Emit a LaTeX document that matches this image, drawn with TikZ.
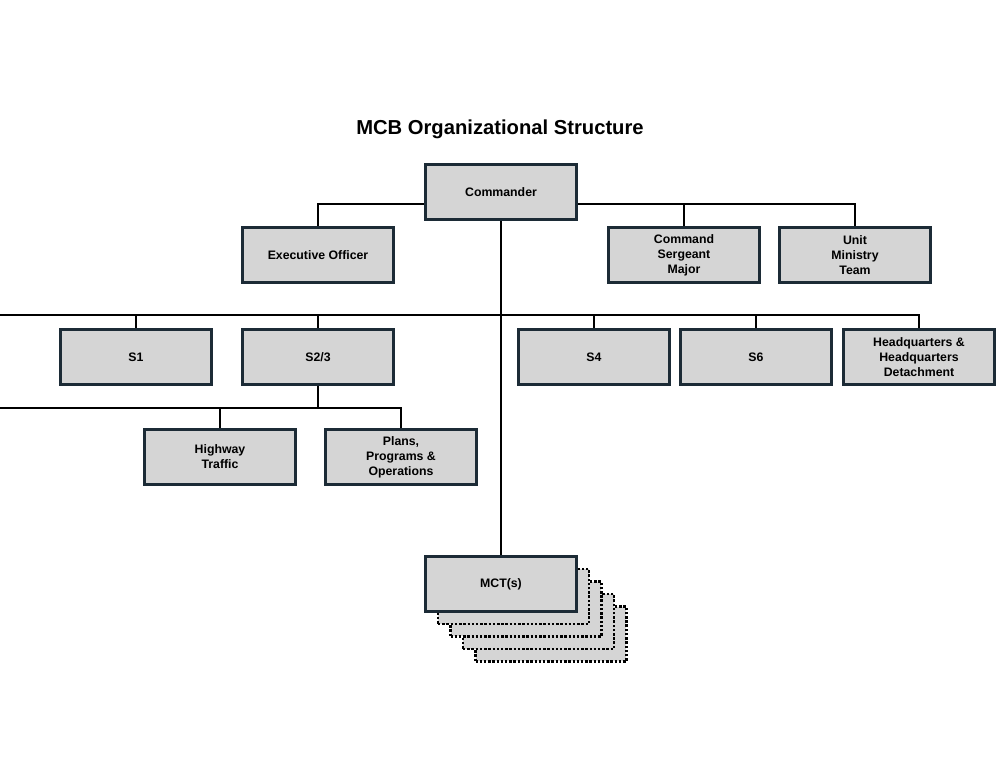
\documentclass[tikz,border=0pt]{standalone}
\usepackage{fontspec}
\setmainfont{Liberation Sans}
\begin{document}
\begin{tikzpicture}[x=0.02cm,y=-0.02cm,
  box/.style={draw=boxline,line width=1.6pt,fill=boxfill,minimum width=154\pgflinewidth*0+3.02cm,minimum height=1.1cm,align=center,font=\fontsize{7}{8.5}\selectfont\bfseries,inner sep=1pt},
  ghost/.style={draw=black,densely dotted,line width=1.4pt,fill=boxfill,minimum width=3.02cm,minimum height=1.1cm},
  conn/.style={draw=black,line width=1.1pt}]
\definecolor{boxline}{HTML}{1C2B36}
\definecolor{boxfill}{HTML}{D5D5D5}
\useasboundingbox (0,0) rectangle (1000,773);
\node[font=\fontsize{11.5}{13}\selectfont\bfseries] (title) at (500,129) {MCB Organizational Structure};
% MCT stack
\foreach \i in {4,3,2,1}{\node[ghost] (g\i) at (501+12.5*\i,584+12.5*\i) {};}
\node[box] (cmd) at (501,192) {Commander};
\node[box] (xo) at (318,255) {Executive Officer};
\node[box] (csm) at (684,255) {Command\\Sergeant\\Major};
\node[box] (umt) at (855,255) {Unit\\Ministry\\Team};
\node[box] (s1) at (136,357) {S1};
\node[box] (s23) at (318,357) {S2/3};
\node[box] (s4) at (594,357) {S4};
\node[box] (s6) at (756,357) {S6};
\node[box] (hq) at (919,357) {Headquarters \&\\Headquarters\\Detachment};
\node[box] (hw) at (220,457) {Highway\\Traffic};
\node[box] (ppo) at (401,457) {Plans,\\Programs \&\\Operations};
\node[box] (mct) at (501,584) {MCT(s)};
\coordinate (cl) at (424,204); \coordinate (cr) at (578,204);
\begin{scope}[on background layer/.try]
\end{scope}
\draw[conn] (cl) -| (xo.north);
\draw[conn] (cr) -| (umt.north);
\draw[conn] (csm.north) -- (csm.north |- cr);
\draw[conn] (cmd.south) -- (mct.north);
\draw[conn] (s1.north) |- (0,315) -| (hq.north);
\foreach \n in {s23,s4,s6}{\draw[conn] (\n.north) -- (\n.north |- 0,315);}
\draw[conn] (s23.south) -- (318,408);
\draw[conn] (hw.north) |- (0,408) -| (ppo.north);
\end{tikzpicture}
\end{document}
